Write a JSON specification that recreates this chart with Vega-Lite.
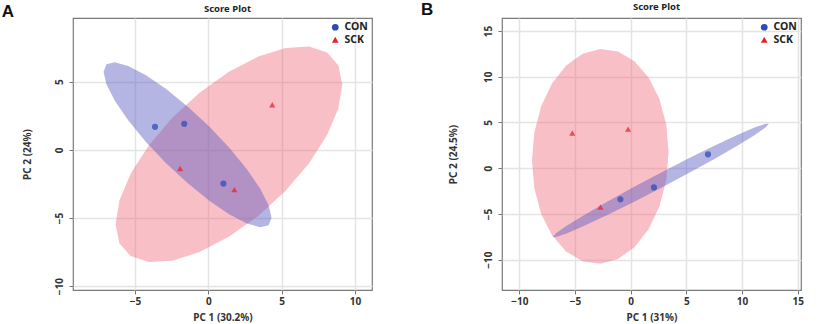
{
  "$schema": "https://vega.github.io/schema/vega-lite/v6.json",
  "autosize": {"type": "pad"},
  "padding": {"left": 1, "top": 0, "right": 0, "bottom": 0},
  "background": "white",
  "spacing": 130,
  "bounds": "flush",
  "config": {
    "view": {"stroke": "#7a7a7a", "strokeWidth": 1.2},
    "axis": {
      "grid": true, "gridColor": "#e4e4e4", "gridWidth": 1.5, "domain": false,
      "tickColor": "#777777", "tickSize": 4, "tickWidth": 1,
      "labelFont": "Noto Sans", "labelFontSize": 10, "labelFontWeight": "bold", "labelColor": "#333333",
      "titleFont": "Noto Sans", "titleFontSize": 10, "titleFontWeight": "bold", "titleColor": "#333333",
      "labelFlush": false, "labelOverlap": false
    },
    "axisX": {"labelPadding": 2, "titlePadding": 6},
    "axisY": {"labelAngle": 270, "labelAlign": "center", "labelBaseline": "bottom", "labelPadding": 5},
    "title": {"font": "Noto Sans", "fontSize": 9.5, "fontWeight": "bold", "color": "#222222"},
    "legend": {
      "orient": "top-right", "offset": 4, "padding": 0,
      "labelFont": "Noto Sans", "labelFontSize": 10.5, "labelFontWeight": "bold", "labelColor": "#222222",
      "symbolSize": 45, "symbolOpacity": 1, "rowPadding": 1.5, "labelOffset": 4, "symbolStrokeWidth": 0
    }
  },
  "datasets": {
    "ptsA": [
      {"g": "CON", "x": -3.63, "y": 1.69}, {"g": "CON", "x": -1.64, "y": 1.91}, {"g": "CON", "x": 1.03, "y": -2.48},
      {"g": "SCK", "x": 4.36, "y": 3.31}, {"g": "SCK", "x": -1.92, "y": -1.37}, {"g": "SCK", "x": 1.78, "y": -2.92}
    ],
    "ptsB": [
      {"g": "CON", "x": 6.94, "y": 1.52}, {"g": "CON", "x": 2.09, "y": -2.10}, {"g": "CON", "x": -0.92, "y": -3.40},
      {"g": "SCK", "x": -5.24, "y": 3.85}, {"g": "SCK", "x": -0.23, "y": 4.28}, {"g": "SCK", "x": -2.71, "y": -4.24}
    ],
    "labA": [{"lab": "A"}],
    "labB": [{"lab": "B"}],
    "ellA": [
      {"g": "CON", "i": 0, "x": 4.310, "y": -4.987}, {"g": "CON", "i": 1, "x": 4.115, "y": -4.075},
      {"g": "CON", "i": 2, "x": 3.543, "y": -2.861}, {"g": "CON", "i": 3, "x": 2.634, "y": -1.426},
      {"g": "CON", "i": 4, "x": 1.449, "y": 0.131}, {"g": "CON", "i": 5, "x": 0.068, "y": 1.705},
      {"g": "CON", "i": 6, "x": -1.413, "y": 3.188}, {"g": "CON", "i": 7, "x": -2.894, "y": 4.479},
      {"g": "CON", "i": 8, "x": -4.275, "y": 5.491}, {"g": "CON", "i": 9, "x": -5.460, "y": 6.154},
      {"g": "CON", "i": 10, "x": -6.369, "y": 6.423}, {"g": "CON", "i": 11, "x": -6.941, "y": 6.279},
      {"g": "CON", "i": 12, "x": -7.136, "y": 5.733}, {"g": "CON", "i": 13, "x": -6.941, "y": 4.821},
      {"g": "CON", "i": 14, "x": -6.369, "y": 3.607}, {"g": "CON", "i": 15, "x": -5.460, "y": 2.172},
      {"g": "CON", "i": 16, "x": -4.275, "y": 0.615}, {"g": "CON", "i": 17, "x": -2.894, "y": -0.959},
      {"g": "CON", "i": 18, "x": -1.413, "y": -2.442}, {"g": "CON", "i": 19, "x": 0.068, "y": -3.733},
      {"g": "CON", "i": 20, "x": 1.449, "y": -4.745}, {"g": "CON", "i": 21, "x": 2.634, "y": -5.408},
      {"g": "CON", "i": 22, "x": 3.543, "y": -5.677}, {"g": "CON", "i": 23, "x": 4.115, "y": -5.533},
      {"g": "SCK", "i": 0, "x": 9.134, "y": 4.806}, {"g": "SCK", "i": 1, "x": 8.871, "y": 6.199},
      {"g": "SCK", "i": 2, "x": 8.099, "y": 7.147}, {"g": "SCK", "i": 3, "x": 6.871, "y": 7.586},
      {"g": "SCK", "i": 4, "x": 5.271, "y": 7.485}, {"g": "SCK", "i": 5, "x": 3.407, "y": 6.852},
      {"g": "SCK", "i": 6, "x": 1.407, "y": 5.730}, {"g": "SCK", "i": 7, "x": -0.593, "y": 4.196},
      {"g": "SCK", "i": 8, "x": -2.457, "y": 2.351}, {"g": "SCK", "i": 9, "x": -4.057, "y": 0.326},
      {"g": "SCK", "i": 10, "x": -5.285, "y": -1.743}, {"g": "SCK", "i": 11, "x": -6.057, "y": -3.717},
      {"g": "SCK", "i": 12, "x": -6.320, "y": -5.460}, {"g": "SCK", "i": 13, "x": -6.057, "y": -6.853},
      {"g": "SCK", "i": 14, "x": -5.285, "y": -7.801}, {"g": "SCK", "i": 15, "x": -4.057, "y": -8.240},
      {"g": "SCK", "i": 16, "x": -2.457, "y": -8.139}, {"g": "SCK", "i": 17, "x": -0.593, "y": -7.506},
      {"g": "SCK", "i": 18, "x": 1.407, "y": -6.384}, {"g": "SCK", "i": 19, "x": 3.407, "y": -4.850},
      {"g": "SCK", "i": 20, "x": 5.271, "y": -3.005}, {"g": "SCK", "i": 21, "x": 6.871, "y": -0.980},
      {"g": "SCK", "i": 22, "x": 8.099, "y": 1.089}, {"g": "SCK", "i": 23, "x": 8.871, "y": 3.063}
    ],
    "ellB": [
      {"g": "CON", "i": 0, "x": 12.411, "y": 4.857}, {"g": "CON", "i": 1, "x": 12.080, "y": 4.863},
      {"g": "CON", "i": 2, "x": 11.110, "y": 4.447}, {"g": "CON", "i": 3, "x": 9.568, "y": 3.638},
      {"g": "CON", "i": 4, "x": 7.557, "y": 2.490}, {"g": "CON", "i": 5, "x": 5.215, "y": 1.081},
      {"g": "CON", "i": 6, "x": 2.703, "y": -0.490}, {"g": "CON", "i": 7, "x": 0.191, "y": -2.119},
      {"g": "CON", "i": 8, "x": -2.151, "y": -3.694}, {"g": "CON", "i": 9, "x": -4.162, "y": -5.108},
      {"g": "CON", "i": 10, "x": -5.704, "y": -6.263}, {"g": "CON", "i": 11, "x": -6.674, "y": -7.083},
      {"g": "CON", "i": 12, "x": -7.005, "y": -7.511}, {"g": "CON", "i": 13, "x": -6.674, "y": -7.517},
      {"g": "CON", "i": 14, "x": -5.704, "y": -7.101}, {"g": "CON", "i": 15, "x": -4.162, "y": -6.292},
      {"g": "CON", "i": 16, "x": -2.151, "y": -5.144}, {"g": "CON", "i": 17, "x": 0.191, "y": -3.735},
      {"g": "CON", "i": 18, "x": 2.703, "y": -2.164}, {"g": "CON", "i": 19, "x": 5.215, "y": -0.535},
      {"g": "CON", "i": 20, "x": 7.557, "y": 1.040}, {"g": "CON", "i": 21, "x": 9.568, "y": 2.454},
      {"g": "CON", "i": 22, "x": 11.110, "y": 3.609}, {"g": "CON", "i": 23, "x": 12.080, "y": 4.429},
      {"g": "SCK", "i": 0, "x": 3.405, "y": 1.756}, {"g": "SCK", "i": 1, "x": 3.196, "y": 4.778},
      {"g": "SCK", "i": 2, "x": 2.583, "y": 7.564}, {"g": "SCK", "i": 3, "x": 1.609, "y": 9.923},
      {"g": "SCK", "i": 4, "x": 0.339, "y": 11.693}, {"g": "SCK", "i": 5, "x": -1.140, "y": 12.755},
      {"g": "SCK", "i": 6, "x": -2.727, "y": 13.036}, {"g": "SCK", "i": 7, "x": -4.314, "y": 12.517},
      {"g": "SCK", "i": 8, "x": -5.793, "y": 11.233}, {"g": "SCK", "i": 9, "x": -7.063, "y": 9.273},
      {"g": "SCK", "i": 10, "x": -8.037, "y": 6.770}, {"g": "SCK", "i": 11, "x": -8.650, "y": 3.892},
      {"g": "SCK", "i": 12, "x": -8.859, "y": 0.838}, {"g": "SCK", "i": 13, "x": -8.650, "y": -2.184},
      {"g": "SCK", "i": 14, "x": -8.037, "y": -4.970}, {"g": "SCK", "i": 15, "x": -7.063, "y": -7.329},
      {"g": "SCK", "i": 16, "x": -5.793, "y": -9.099}, {"g": "SCK", "i": 17, "x": -4.314, "y": -10.161},
      {"g": "SCK", "i": 18, "x": -2.727, "y": -10.442}, {"g": "SCK", "i": 19, "x": -1.140, "y": -9.923},
      {"g": "SCK", "i": 20, "x": 0.339, "y": -8.639}, {"g": "SCK", "i": 21, "x": 1.609, "y": -6.679},
      {"g": "SCK", "i": 22, "x": 2.583, "y": -4.176}, {"g": "SCK", "i": 23, "x": 3.196, "y": -1.298}
    ]
  },
  "hconcat": [
    {
      "width": 299, "height": 272,
      "title": {"text": "Score Plot", "frame": "group", "dx": 5, "offset": -20, "baseline": "bottom"},
      "layer": [
        {"data": {"name": "ellA"}, "transform": [{"filter": "datum.g === 'SCK'"}],
         "mark": {"type": "line", "interpolate": "linear-closed", "fill": "#f06070", "fillOpacity": 0.4, "strokeOpacity": 0, "strokeWidth": 0},
         "encoding": {
           "x": {"field": "x", "type": "quantitative", "scale": {"domain": [-9.22, 11.16], "nice": false, "zero": false}, "axis": {"values": [-5, 0, 5, 10], "title": "PC 1 (30.2%)"}},
           "y": {"field": "y", "type": "quantitative", "scale": {"domain": [-10.29, 9.68], "nice": false, "zero": false}, "axis": {"values": [-10, -5, 0, 5], "title": "PC 2 (24%)", "titlePadding": 22}},
           "order": {"field": "i", "type": "quantitative"}}},
        {"data": {"name": "ellA"}, "transform": [{"filter": "datum.g === 'CON'"}],
         "mark": {"type": "line", "interpolate": "linear-closed", "fill": "#5a5ac0", "fillOpacity": 0.45, "strokeOpacity": 0, "strokeWidth": 0},
         "encoding": {
           "x": {"field": "x", "type": "quantitative", "scale": {"domain": [-9.22, 11.16], "nice": false, "zero": false}, "axis": {"values": [-5, 0, 5, 10], "title": "PC 1 (30.2%)"}},
           "y": {"field": "y", "type": "quantitative", "scale": {"domain": [-10.29, 9.68], "nice": false, "zero": false}, "axis": {"values": [-10, -5, 0, 5], "title": "PC 2 (24%)", "titlePadding": 22}},
           "order": {"field": "i", "type": "quantitative"}}},
        {"data": {"name": "ptsA"},
         "mark": {"type": "point", "filled": true, "opacity": 0.72, "size": 38},
         "encoding": {
           "x": {"field": "x", "type": "quantitative", "scale": {"domain": [-9.22, 11.16], "nice": false, "zero": false}, "axis": {"values": [-5, 0, 5, 10], "title": "PC 1 (30.2%)"}},
           "y": {"field": "y", "type": "quantitative", "scale": {"domain": [-10.29, 9.68], "nice": false, "zero": false}, "axis": {"values": [-10, -5, 0, 5], "title": "PC 2 (24%)", "titlePadding": 22}},
           "color": {"field": "g", "type": "nominal", "scale": {"domain": ["CON", "SCK"], "range": ["#2b4bb5", "#e8202c"]}, "legend": {"title": null, "symbolOpacity": 1}},
           "shape": {"field": "g", "type": "nominal", "scale": {"domain": ["CON", "SCK"], "range": ["circle", "triangle-up"]}, "legend": {"title": null, "symbolOpacity": 1}}
         }},
        {"data": {"name": "labA"},
         "mark": {"type": "text", "font": "Liberation Sans", "fontSize": 17, "fontWeight": "bold", "color": "#111111", "align": "center", "baseline": "middle", "clip": false},
         "encoding": {
           "text": {"field": "lab", "type": "nominal"},
           "x": {"datum": -13.65, "type": "quantitative"},
           "y": {"datum": 10.12, "type": "quantitative"}}}
      ]
    },
    {
      "width": 299, "height": 272,
      "title": {"text": "Score Plot", "frame": "group", "dx": 5, "offset": -20, "baseline": "bottom"},
      "layer": [
        {"data": {"name": "ellB"}, "transform": [{"filter": "datum.g === 'SCK'"}],
         "mark": {"type": "line", "interpolate": "linear-closed", "fill": "#f06070", "fillOpacity": 0.4, "strokeOpacity": 0, "strokeWidth": 0},
         "encoding": {
           "x": {"field": "x", "type": "quantitative", "scale": {"domain": [-11.55, 15.29], "nice": false, "zero": false}, "axis": {"values": [-10, -5, 0, 5, 10, 15], "title": "PC 1 (31%)"}},
           "y": {"field": "y", "type": "quantitative", "scale": {"domain": [-13.31, 16.42], "nice": false, "zero": false}, "axis": {"values": [-10, -5, 0, 5, 10, 15], "title": "PC 2 (24.5%)", "titlePadding": 25}},
           "order": {"field": "i", "type": "quantitative"}}},
        {"data": {"name": "ellB"}, "transform": [{"filter": "datum.g === 'CON'"}],
         "mark": {"type": "line", "interpolate": "linear-closed", "fill": "#5a5ac0", "fillOpacity": 0.45, "strokeOpacity": 0, "strokeWidth": 0},
         "encoding": {
           "x": {"field": "x", "type": "quantitative", "scale": {"domain": [-11.55, 15.29], "nice": false, "zero": false}, "axis": {"values": [-10, -5, 0, 5, 10, 15], "title": "PC 1 (31%)"}},
           "y": {"field": "y", "type": "quantitative", "scale": {"domain": [-13.31, 16.42], "nice": false, "zero": false}, "axis": {"values": [-10, -5, 0, 5, 10, 15], "title": "PC 2 (24.5%)", "titlePadding": 25}},
           "order": {"field": "i", "type": "quantitative"}}},
        {"data": {"name": "ptsB"},
         "mark": {"type": "point", "filled": true, "opacity": 0.72, "size": 38},
         "encoding": {
           "x": {"field": "x", "type": "quantitative", "scale": {"domain": [-11.55, 15.29], "nice": false, "zero": false}, "axis": {"values": [-10, -5, 0, 5, 10, 15], "title": "PC 1 (31%)"}},
           "y": {"field": "y", "type": "quantitative", "scale": {"domain": [-13.31, 16.42], "nice": false, "zero": false}, "axis": {"values": [-10, -5, 0, 5, 10, 15], "title": "PC 2 (24.5%)", "titlePadding": 25}},
           "color": {"field": "g", "type": "nominal", "scale": {"domain": ["CON", "SCK"], "range": ["#2b4bb5", "#e8202c"]}, "legend": {"title": null, "symbolOpacity": 1}},
           "shape": {"field": "g", "type": "nominal", "scale": {"domain": ["CON", "SCK"], "range": ["circle", "triangle-up"]}, "legend": {"title": null, "symbolOpacity": 1}}
         }},
        {"data": {"name": "labB"},
         "mark": {"type": "text", "font": "Liberation Sans", "fontSize": 17, "fontWeight": "bold", "color": "#111111", "align": "center", "baseline": "middle", "clip": false},
         "encoding": {
           "text": {"field": "lab", "type": "nominal"},
           "x": {"datum": -18.28, "type": "quantitative"},
           "y": {"datum": 17.29, "type": "quantitative"}}}
      ]
    }
  ],
  "resolve": {
    "scale": {"color": "independent", "shape": "independent"},
    "legend": {"color": "independent", "shape": "independent"}
  }
}
